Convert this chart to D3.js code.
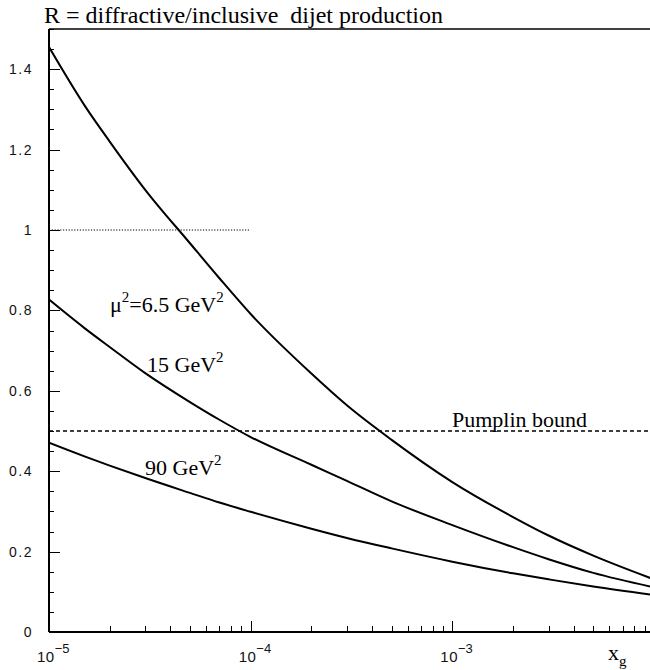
<!DOCTYPE html>
<html>
<head>
<meta charset="utf-8">
<script src="https://cdn.jsdelivr.net/npm/d3@7/dist/d3.min.js"></script>
<style>
  html, body { margin: 0; padding: 0; background: #fff; }
  svg { display: block; }
  .num { font-family: "Liberation Sans", Arial, sans-serif; font-size: 14px; fill: #111; }
  .ser { font-family: "Liberation Serif", "Times New Roman", serif; fill: #000; }
</style>
</head>
<body>
<svg id="chart" width="650" height="670"></svg>
<script>
// ---- data ----
const xValues = [1e-5, 1.5e-5, 2e-5, 3e-5, 5e-5, 7e-5, 1e-4, 2e-4, 3e-4, 5e-4, 1e-3, 2e-3, 3e-3, 5e-3, 1e-2];
const r_6p5 = [1.455, 1.31, 1.22, 1.10, 0.967, 0.880, 0.791, 0.643, 0.564, 0.478, 0.373, 0.286, 0.240, 0.19, 0.131];
const r_15  = [0.827, 0.756, 0.709, 0.644, 0.572, 0.528, 0.485, 0.416, 0.376, 0.325, 0.266, 0.211, 0.181, 0.147, 0.111];
const r_90  = [0.471, 0.437, 0.414, 0.383, 0.346, 0.322, 0.299, 0.257, 0.234, 0.208, 0.175, 0.146, 0.131, 0.113, 0.092];
const yTicks = [0, 0.2, 0.4, 0.6, 0.8, 1, 1.2, 1.4];
const yTickLabels = ["0", "0.2", "0.4", "0.6", "0.8", "1", "1.2", "1.4"];
const xDecades = [1e-5, 1e-4, 1e-3];
const xDecadeExp = ["\u22125", "\u22124", "\u22123"];
const unityLine = { value: 1.0, xFrom: 1e-5, xTo: 1e-4 };
const pumplin = { value: 0.5, label: "Pumplin bound" };
const titleText = "R = diffractive/inclusive  dijet production";
const curveLabels = [
  { pre: "\u03bc", text: "=6.5 GeV", x: 110, y: 312 },
  { pre: null, text: "15 GeV", x: 147, y: 372 },
  { pre: null, text: "90 GeV", x: 145, y: 475 }
];

(function () {
const svg = d3.select("#chart");
const pL = 49, pR = 654, pT = 29, pB = 632;
const x = d3.scaleLog().domain([1e-5, 1e-2]).range([pL, pR]);
const y = d3.scaleLinear().domain([0, 1.5]).range([pB, pT]);

svg.append("clipPath").attr("id", "clip")
  .append("rect").attr("x", pL).attr("y", pT).attr("width", pR - pL).attr("height", pB - pT);

// frame
svg.append("line").attr("x1", pL).attr("x2", pR).attr("y1", pT).attr("y2", pT)
  .attr("stroke", "#000").attr("stroke-width", 1.5);
svg.append("line").attr("x1", pL).attr("x2", pL).attr("y1", pT).attr("y2", pB)
  .attr("stroke", "#000").attr("stroke-width", 2);
svg.append("line").attr("x1", pL).attr("x2", pR).attr("y1", pB).attr("y2", pB)
  .attr("stroke", "#000").attr("stroke-width", 2);

// y ticks
const yMinor = d3.range(0, 1.5001, 0.05);
svg.append("g").selectAll("line").data(yMinor).join("line")
  .attr("x1", pL).attr("x2", d => (Math.abs(d / 0.2 - Math.round(d / 0.2)) < 1e-6) ? pL + 11 : pL + 5)
  .attr("y1", d => Math.round(y(d)) + 0.5).attr("y2", d => Math.round(y(d)) + 0.5)
  .attr("stroke", "#000").attr("stroke-width", 1);
svg.append("g").selectAll("text").data(yTicks).join("text")
  .attr("class", "num")
  .attr("x", 33).attr("y", d => y(d) + 5)
  .attr("text-anchor", "end")
  .style("letter-spacing", "1.5px")
  .text((d, i) => yTickLabels[i]);

// x ticks
const xMinor = [];
[1e-5, 1e-4, 1e-3].forEach(dec => { for (let k = 1; k <= 9; k++) xMinor.push(dec * k); });
svg.append("g").selectAll("line").data(xMinor).join("line")
  .attr("x1", d => Math.round(x(d)) + 0.5).attr("x2", d => Math.round(x(d)) + 0.5)
  .attr("y1", pB).attr("y2", (d, i) => (i % 9 === 0) ? pB - 11 : pB - 6)
  .attr("stroke", "#000").attr("stroke-width", 1);
const xl = svg.append("g").selectAll("text").data(xDecades).join("text")
  .attr("class", "num")
  .attr("x", d => x(d) - 12).attr("y", 662);
xl.append("tspan").text("10").style("font-size", "15px").style("letter-spacing", "0.5px");
xl.append("tspan").attr("dy", -9).attr("dx", 0).style("font-size", "13px").text((d, i) => xDecadeExp[i]);

// x axis title
const xt = svg.append("text").attr("class", "ser").attr("x", 608).attr("y", 660).style("font-size", "22px");
xt.append("tspan").text("x");
xt.append("tspan").attr("dy", 6).style("font-size", "15px").text("g");

// title
svg.append("text").attr("class", "ser").attr("x", 44).attr("y", 23)
  .style("font-size", "24px").style("white-space", "pre")
  .text(titleText);

// reference lines
svg.append("line")
  .attr("x1", x(unityLine.xFrom)).attr("x2", x(unityLine.xTo))
  .attr("y1", y(unityLine.value)).attr("y2", y(unityLine.value))
  .attr("stroke", "#000").attr("stroke-width", 1).attr("stroke-dasharray", "1.2,1.6");
svg.append("line")
  .attr("x1", pL).attr("x2", 650)
  .attr("y1", y(pumplin.value)).attr("y2", y(pumplin.value))
  .attr("stroke", "#000").attr("stroke-width", 1.5).attr("stroke-dasharray", "4,3");
svg.append("text").attr("class", "ser").attr("x", 452).attr("y", y(pumplin.value) - 4)
  .style("font-size", "22px").text(pumplin.label);

// curves
const line = d3.line().x(d => x(d[0])).y(d => y(d[1])).curve(d3.curveMonotoneX);
const g = svg.append("g").attr("clip-path", "url(#clip)");
[r_6p5, r_15, r_90].forEach(series => {
  g.append("path").datum(xValues.map((v, i) => [v, series[i]]))
    .attr("d", line).attr("fill", "none").attr("stroke", "#000").attr("stroke-width", 2);
});

// curve labels
curveLabels.forEach(c => {
  const t = svg.append("text").attr("class", "ser").attr("x", c.x).attr("y", c.y).style("font-size", "22px");
  if (c.pre) {
    t.append("tspan").text(c.pre);
    t.append("tspan").attr("dy", -10).style("font-size", "15px").text("2");
    t.append("tspan").attr("dy", 10).text(c.text);
  } else {
    t.append("tspan").text(c.text);
  }
  t.append("tspan").attr("dy", -10).style("font-size", "15px").text("2");
});
})();
</script>
</body>
</html>
